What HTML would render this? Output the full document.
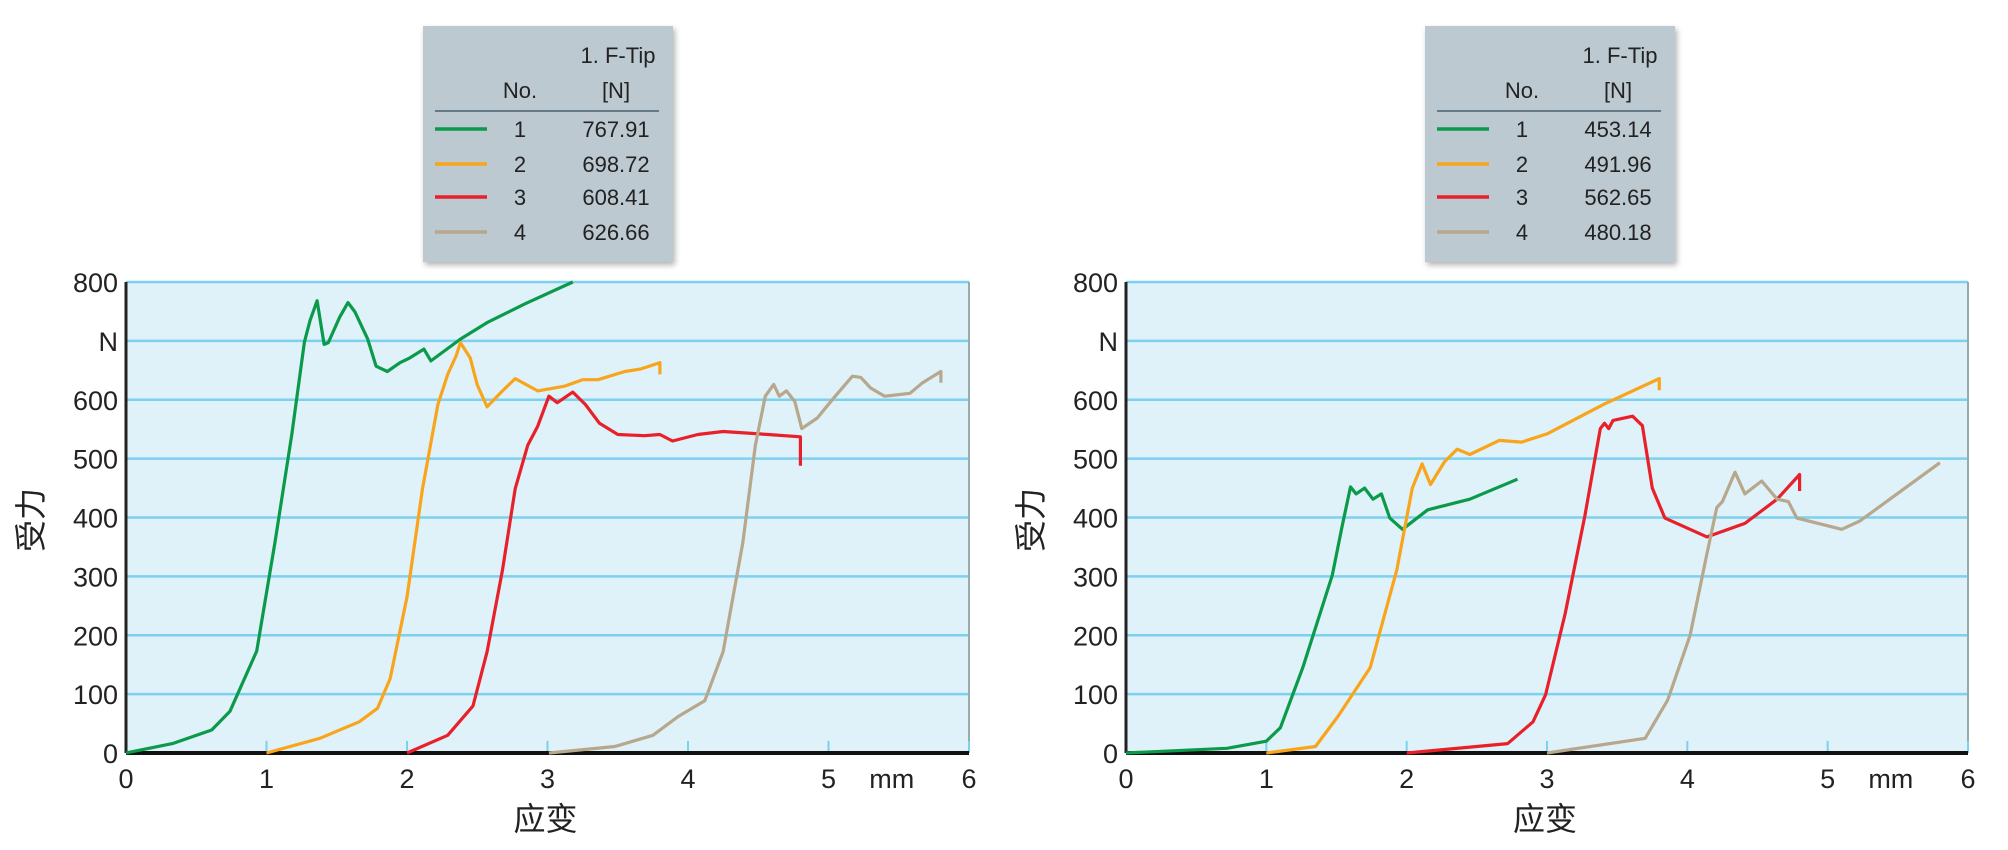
<!DOCTYPE html>
<html><head><meta charset="utf-8"><style>
html,body{margin:0;padding:0;background:#fff;}
svg{display:block;font-family:"Liberation Sans","Noto Sans CJK SC",sans-serif;}
</style></head><body>
<svg id="s" width="2008" height="850" viewBox="0 0 2008 850" xmlns="http://www.w3.org/2000/svg">
<defs><filter id="sh" x="-10%" y="-10%" width="130%" height="130%"><feDropShadow dx="2" dy="3" stdDeviation="3" flood-color="#000" flood-opacity="0.3"/></filter></defs>
</svg>
<script>
const yTicks=[0,100,200,300,400,500,600,700,800];
const yTickLabels=["0","100","200","300","400","500","600","N","800"];
const xTicks=[0,1,2,3,4,5,6];
const xTickLabels=["0","1","2","3","4","5","6"];
const seriesNames=["1","2","3","4"];
const seriesColors=["#0b9a4a","#f8a51c","#e8202a","#b7a78c"];
const leftMaxValues=["767.91","698.72","608.41","626.66"];
const rightMaxValues=["453.14","491.96","562.65","480.18"];
const L1x=[0,0.33,0.61,0.74,0.93,1.06,1.18,1.27,1.31,1.36,1.41,1.44,1.52,1.58,1.63,1.72,1.78,1.86,1.95,2.02,2.12,2.17,2.38,2.57,2.84,3.18];
const L1y=[0,16,39,71,173,357,541,698,735,768,694,697,740,765,749,703,657,648,663,671,686,666,703,731,763,800];
const L2x=[1.0,1.38,1.66,1.79,1.88,2.0,2.11,2.22,2.29,2.35,2.38,2.45,2.50,2.57,2.68,2.77,2.93,3.12,3.25,3.36,3.55,3.66,3.80,3.80];
const L2y=[0,25,53,76,126,265,449,592,643,675,697,671,625,588,615,636,615,623,634,634,648,652,663,643];
const L3x=[2.0,2.29,2.47,2.57,2.68,2.77,2.86,2.93,3.01,3.07,3.18,3.27,3.37,3.50,3.69,3.80,3.89,4.07,4.25,4.57,4.80,4.80];
const L3y=[0,30,80,172,311,449,523,555,606,595,613,592,560,541,539,541,530,541,546,541,537,488];
const L4x=[3.01,3.48,3.75,3.93,4.12,4.25,4.39,4.48,4.55,4.61,4.65,4.70,4.76,4.81,4.92,5.03,5.17,5.23,5.30,5.40,5.58,5.67,5.80,5.80];
const L4y=[0,11,30,62,89,172,357,523,606,626,606,615,597,551,569,601,640,638,620,606,611,629,648,629];
const R1x=[0,0.72,1.0,1.10,1.26,1.47,1.54,1.60,1.64,1.70,1.76,1.82,1.88,1.97,2.15,2.45,2.79];
const R1y=[0,8,20,43,145,302,385,452,440,450,431,440,399,380,413,431,465];
const R2x=[1.0,1.35,1.51,1.74,1.93,2.04,2.11,2.17,2.27,2.36,2.45,2.66,2.82,3.0,3.41,3.80,3.80];
const R2y=[0,11,62,145,311,450,491,456,495,516,507,531,528,542,593,636,616];
const R3x=[2.0,2.72,2.90,2.99,3.13,3.27,3.38,3.41,3.44,3.47,3.61,3.68,3.75,3.84,4.14,4.41,4.64,4.80,4.80];
const R3y=[0,16,53,99,237,403,551,560,551,565,572,556,450,399,367,390,431,473,445];
const R4x=[3.0,3.70,3.86,4.02,4.14,4.21,4.25,4.34,4.41,4.53,4.64,4.72,4.78,5.10,5.23,5.80];
const R4y=[0,25,90,200,339,417,427,477,440,462,431,427,399,380,394,493];

const NS="http://www.w3.org/2000/svg";
const svg=document.getElementById('s');
function mk(tag,attrs,parent){const e=document.createElementNS(NS,tag);for(const k in attrs)e.setAttribute(k,attrs[k]);(parent||svg).appendChild(e);return e;}
const TOP=282,BOT=753;
function drawPanel(side,x0,x1,lx,vals,data){
  const g=mk('g',{});
  
  
  const xs=v=>x0+(x1-x0)*v/6;
  const ys=v=>BOT-(BOT-TOP)*v/800;
  const bg=mk('rect',{x:x0,y:TOP,width:x1-x0,height:BOT-TOP,fill:'#dff1f9'},g);
  
  
  yTicks.forEach((t,i)=>{
    if(t>0){const gl=mk('line',{x1:x0,x2:x1,y1:ys(t),y2:ys(t),stroke:'#7cd0f0','stroke-width':2.5},g);
      
      }
    const tx=mk('text',{x:x0-8,y:ys(t)+10,'text-anchor':'end','font-size':27,fill:'#222'},g);
    tx.textContent=yTickLabels[i];
    
    
  });
  mk('line',{x1:x1,x2:x1,y1:TOP,y2:BOT,stroke:'#9aa',"stroke-width":2},g);
  xTicks.forEach((t,i)=>{
    const tk=mk('line',{x1:xs(t),x2:xs(t),y1:BOT,y2:BOT-12,stroke:'#7cd0f0','stroke-width':2},g);
    
    
    const tx=mk('text',{x:xs(t),y:BOT+35,'text-anchor':'middle','font-size':27,fill:'#222'},g);
    tx.textContent=xTickLabels[i];
    
    
  });
  const mm=mk('text',{x:xs(5.45),y:BOT+35,'text-anchor':'middle','font-size':27,fill:'#222'},g);
  mm.textContent='mm';
  
  
  mk('line',{x1:x0,x2:x0,y1:TOP,y2:BOT,stroke:'#222','stroke-width':3},g);
  mk('line',{x1:x0,x2:x1,y1:BOT,y2:BOT,stroke:'#111','stroke-width':4},g);
  data.forEach((d,i)=>{
    const p=mk('polyline',{points:d[0].map((v,j)=>xs(v).toFixed(1)+','+ys(d[1][j]).toFixed(1)).join(' '),fill:'none',stroke:seriesColors[i],'stroke-width':3.2,'stroke-linejoin':'round'},g);
    
    
  });
  const xt=mk('text',{x:x0+(x1-x0)*0.5-2,y:830,'text-anchor':'middle','font-size':32,fill:'#222'},g);
  xt.textContent='应变';
  
  
  const yt=mk('text',{x:0,y:0,'text-anchor':'middle','font-size':32,fill:'#222',transform:`translate(${x0-84},520) rotate(-90)`},g);
  yt.textContent='受力';
  
  
  // legend
  const lg=mk('g',{},g);
  
  
  mk('rect',{x:lx,y:26,width:250,height:236,fill:'#bdc9d1',filter:'url(#sh)'},lg);
  const h1=mk('text',{x:lx+195,y:63,'text-anchor':'middle','font-size':22,fill:'#222'},lg);h1.textContent='1. F-Tip';
  const h2=mk('text',{x:lx+97,y:98,'text-anchor':'middle','font-size':22,fill:'#222'},lg);h2.textContent='No.';
  const h3=mk('text',{x:lx+193,y:98,'text-anchor':'middle','font-size':22,fill:'#222'},lg);h3.textContent='[N]';
  mk('line',{x1:lx+12,x2:lx+236,y1:111,y2:111,stroke:'#4a5f6e','stroke-width':1.5},lg);
  const rowsY=[129,164,197,232];
  seriesNames.forEach((n,i)=>{
    const ln=mk('line',{x1:lx+12,x2:lx+64,y1:rowsY[i],y2:rowsY[i],stroke:seriesColors[i],'stroke-width':3.5},lg);
    
    
    const t1=mk('text',{x:lx+97,y:rowsY[i]+8,'text-anchor':'middle','font-size':22,fill:'#222'},lg);t1.textContent=n;
    const t2=mk('text',{x:lx+193,y:rowsY[i]+8,'text-anchor':'middle','font-size':22,fill:'#222'},lg);t2.textContent=vals[i];
    
    
  });
}
drawPanel('left',126,969,423,leftMaxValues,[[L1x,L1y],[L2x,L2y],[L3x,L3y],[L4x,L4y]]);
drawPanel('right',1126,1968,1425,rightMaxValues,[[R1x,R1y],[R2x,R2y],[R3x,R3y],[R4x,R4y]]);
</script>
</body></html>
